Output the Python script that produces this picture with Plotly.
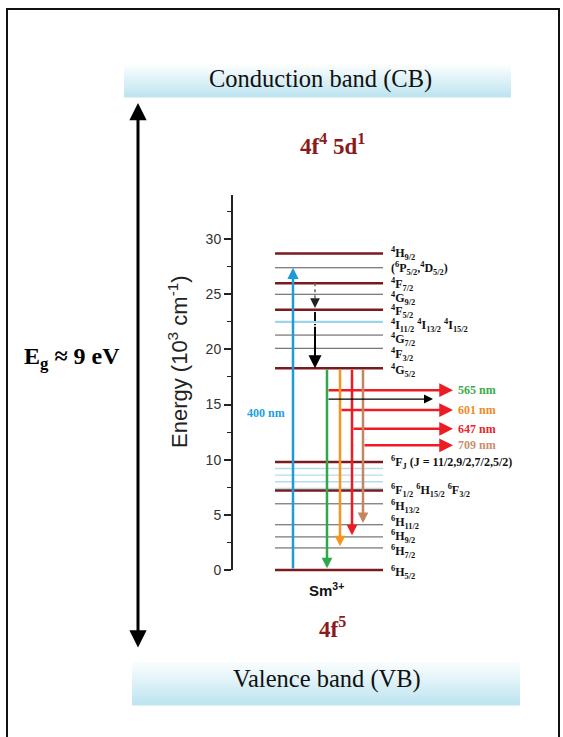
import plotly.graph_objects as go

# ---------------- data ----------------
level_labels = [
    "<sup>4</sup>H<sub>9/2</sub>",
    "(<sup>6</sup>P<sub>5/2</sub>,<sup>4</sup>D<sub>5/2</sub>)",
    "<sup>4</sup>F<sub>7/2</sub>",
    "<sup>4</sup>G<sub>9/2</sub>",
    "<sup>4</sup>F<sub>5/2</sub>",
    "<sup>4</sup>I<sub>11/2</sub> <sup>4</sup>I<sub>13/2</sub> <sup>4</sup>I<sub>15/2</sub>",
    "<sup>4</sup>G<sub>7/2</sub>",
    "<sup>4</sup>F<sub>3/2</sub>",
    "<sup>4</sup>G<sub>5/2</sub>",
    "<sup>6</sup>F<sub>J</sub> (J = 11/2,9/2,7/2,5/2)",
    "", "", "", "",
    "<sup>6</sup>F<sub>1/2</sub> <sup>6</sup>H<sub>15/2</sub> <sup>6</sup>F<sub>3/2</sub>",
    "<sup>6</sup>H<sub>13/2</sub>",
    "<sup>6</sup>H<sub>11/2</sub>",
    "<sup>6</sup>H<sub>9/2</sub>",
    "<sup>6</sup>H<sub>7/2</sub>",
    "<sup>6</sup>H<sub>5/2</sub>",
]
level_energy = [28.7, 27.4, 26.0, 25.0, 23.6, 22.5, 21.3, 20.1, 18.3,
                9.8, 9.2, 8.6, 8.0, 7.4, 7.2,
                6.0, 4.1, 3.0, 2.0, 0.0]
level_kind = ["main", "minor", "main", "minor", "main", "light", "minor", "minor", "main",
              "main", "faint", "faint", "faint", "faint", "main",
              "minor", "minor", "minor", "minor", "main"]

excitation_label = "400 nm"
excitation_from = 0.0
excitation_to = 27.4

relax_from = 26.0
relax_to = 18.3

emission_labels = ["565 nm", "601 nm", "647 nm", "709 nm"]
emission_from = 18.3
emission_to = [0.0, 2.0, 3.0, 4.1]
emission_branch = [16.3, 14.5, 12.8, 11.3]
extra_branch = 15.5

y_ticks = [0, 5, 10, 15, 20, 25, 30]

# ---------------- layout helpers ----------------
W, H = 563, 737
def px(x): return x / W
def py(y): return 1 - y / H

Y0_PX = 570.0          # pixel row of energy 0
PPU = 11.03            # pixels per 1000 cm-1
RMIN, RMAX = -0.6, 34.2
dom_bot = (H - (Y0_PX - RMIN * PPU)) / H
dom_top = (H - (Y0_PX - RMAX * PPU)) / H
AX_X = 232

DARK_RED = "#7B1A1E"
styles = {
    "main": dict(color=DARK_RED, width=2.5, dash="solid"),
    "minor": dict(color="#555555", width=1, dash="solid"),
    "light": dict(color="#9DD6EA", width=2.2, dash="solid"),
    "faint": dict(color="#B5DCEA", width=1.4, dash="solid"),
}
label_shift = [0, -1, -1, -4, -2, -4, -4, -6, -2, -1, 0, 0, 0, 0, 0, -3, 2, 0, -4, -2]

fig = go.Figure()
fig.add_trace(go.Scatter(x=[300] * len(level_energy), y=level_energy, mode="markers",
                         marker=dict(opacity=0), hoverinfo="skip", showlegend=False))

shapes = []
annotations = []

def note(x, y, text, size, color="#111", family="Liberation Serif", **kw):
    d = dict(xref="paper", yref="paper", x=px(x), y=py(y), text=text, showarrow=False,
             xanchor="center", yanchor="middle",
             font=dict(family=family, size=size, color=color))
    d.update(kw)
    annotations.append(d)

# outer frame
shapes.append(dict(type="rect", xref="paper", yref="paper", x0=px(7), x1=px(559),
                   y0=py(745), y1=py(9), line=dict(color="#111", width=2)))

# gradient bands
def band(x0, x1, y0, y1, n=24):
    c_top = (250, 253, 254)
    c_bot = (189, 228, 240)
    h = (y1 - y0) / n
    for i in range(n):
        t = i / (n - 1)
        c = tuple(int(round(c_top[k] + (c_bot[k] - c_top[k]) * t)) for k in range(3))
        shapes.append(dict(type="rect", xref="paper", yref="paper", layer="below",
                           x0=px(x0), x1=px(x1), y0=py(y0 + (i + 1) * h + 0.6), y1=py(y0 + i * h),
                           line=dict(width=0), fillcolor="rgb(%d,%d,%d)" % c))

band(124, 511, 65, 97)
band(132, 520, 662, 705)

note(320, 79, "Conduction band (CB)", 24.5)
note(327, 679, "Valence band (VB)", 24.5)

# band-gap double arrow
annotations.append(dict(xref="paper", yref="paper", x=px(138), y=py(103), axref="pixel", ayref="pixel",
                        ax=0, ay=546, text="", showarrow=True, arrowhead=2, startarrowhead=2,
                        arrowside="end+start", arrowwidth=3, arrowsize=1.15, startarrowsize=1.15,
                        arrowcolor="#000"))
note(72, 358, "<b>E<sub>g</sub> ≈ 9 eV</b>", 24, color="#000")

note(333, 144, "<b>4f<sup>4</sup> 5d<sup>1</sup></b>", 23, color="#8B1A1A")
note(333, 627, "<b>4f<sup>5</sup></b>", 23, color="#8B1A1A")
note(326, 589, "<b>Sm<sup>3+</sup></b>", 15, family="Arial")

# axis title (rotated)
note(178, 362, "Energy (10<sup>3</sup> cm<sup>-1</sup>)", 22, color="#222", family="Arial",
     textangle=-90)

# axis line
shapes.append(dict(type="line", xref="paper", yref="y", x0=px(AX_X), x1=px(AX_X), y0=0, y1=34,
                   line=dict(color="#222", width=2)))

# levels
LX0, LX1 = 275, 383
for lab, e, k, sh in zip(level_labels, level_energy, level_kind, label_shift):
    s = styles[k]
    shapes.append(dict(type="line", xref="x", yref="y", x0=LX0, x1=LX1, y0=e, y1=e,
                       line=dict(color=s["color"], width=s["width"], dash=s["dash"])))
    if lab:
        annotations.append(dict(xref="x", yref="y", x=389, y=e, yshift=sh, xanchor="left",
                                yanchor="middle", text="<b>" + lab + "</b>", showarrow=False,
                                font=dict(family="Liberation Serif", size=12, color="#111")))

# excitation arrow
BLUE = "#1E9CD8"
annotations.append(dict(xref="x", yref="y", axref="x", ayref="y", x=293, y=excitation_to,
                        ax=293, ay=excitation_from, text="", showarrow=True, arrowhead=2,
                        arrowwidth=2.5, arrowsize=0.9, arrowcolor=BLUE, standoff=0))
annotations.append(dict(xref="x", yref="y", x=266, y=14.2, text="<b>" + excitation_label + "</b>",
                        showarrow=False, xanchor="center", yanchor="middle",
                        font=dict(family="Liberation Serif", size=12, color="#22A0DB")))

# non-radiative relaxation
RX = 315
shapes.append(dict(type="line", xref="x", yref="y", x0=RX, x1=RX, y0=relax_from, y1=24.6,
                   line=dict(color="#666", width=1.5, dash="dot")))
annotations.append(dict(xref="x", yref="y", axref="x", ayref="y", x=RX, y=23.75, ax=RX, ay=24.7,
                        text="", showarrow=True, arrowhead=2, arrowwidth=1.5, arrowsize=1.3,
                        arrowcolor="#222", standoff=0))
shapes.append(dict(type="line", xref="x", yref="y", x0=RX, x1=RX, y0=23.4, y1=22.2,
                   line=dict(color="#111", width=2, dash="dashdot")))
annotations.append(dict(xref="x", yref="y", axref="x", ayref="y", x=RX, y=relax_to, ax=RX, ay=22.2,
                        text="", showarrow=True, arrowhead=2, arrowwidth=2, arrowsize=1.3,
                        arrowcolor="#000", standoff=0))

# emissions
em_x = [327, 340, 352, 363]
em_colors = ["#2EA84A", "#F7941D", "#ED1C24", "#C4855F"]
em_text_colors = ["#3AAA4A", "#F08A2A", "#E8262C", "#C9906B"]
HEAD_X = 453
for xx, e_to, br, lab, c, tc in zip(em_x, emission_to, emission_branch, emission_labels,
                                   em_colors, em_text_colors):
    annotations.append(dict(xref="x", yref="y", axref="x", ayref="y", x=xx, y=e_to + 0.15,
                            ax=xx, ay=emission_from, text="", showarrow=True, arrowhead=2,
                            arrowwidth=2.5, arrowsize=0.85, arrowcolor=c, standoff=0))
    annotations.append(dict(xref="x", yref="y", axref="x", ayref="y", x=HEAD_X, y=br,
                            ax=xx, ay=br, text="", showarrow=True, arrowhead=2,
                            arrowwidth=2.5, arrowsize=1.1, arrowcolor="#ED1C24", standoff=0))
    annotations.append(dict(xref="x", yref="y", x=456, y=br, xanchor="left", yanchor="middle",
                            text="<b>" + lab + "</b>", showarrow=False,
                            font=dict(family="Liberation Serif", size=12, color=tc)))
annotations.append(dict(xref="x", yref="y", axref="x", ayref="y", x=433, y=extra_branch,
                        ax=em_x[0], ay=extra_branch, text="", showarrow=True, arrowhead=2,
                        arrowwidth=1.2, arrowsize=1.5, arrowcolor="#000", standoff=0))

fig.update_layout(
    width=W, height=H, margin=dict(l=0, r=0, t=0, b=0),
    paper_bgcolor="white", plot_bgcolor="rgba(0,0,0,0)",
    showlegend=False,
    xaxis=dict(domain=[AX_X / W, 1], range=[AX_X, W], visible=False, fixedrange=True),
    yaxis=dict(domain=[dom_bot, dom_top], range=[RMIN, RMAX], showgrid=False, zeroline=False,
               showline=False, tickmode="array", tickvals=y_ticks, ticks="outside", ticklen=7,
               tickwidth=1.5, tickcolor="#222", fixedrange=True,
               minor=dict(ticks="outside", ticklen=4, tickwidth=1.2, tickcolor="#222", dtick=2.5,
                          tick0=0, showgrid=False),
               tickfont=dict(family="Arial", size=14, color="#333")),
    shapes=shapes, annotations=annotations,
)

fig.write_html("out.html", config={"displayModeBar": False},
               post_script="document.body.style.margin='0px';")
